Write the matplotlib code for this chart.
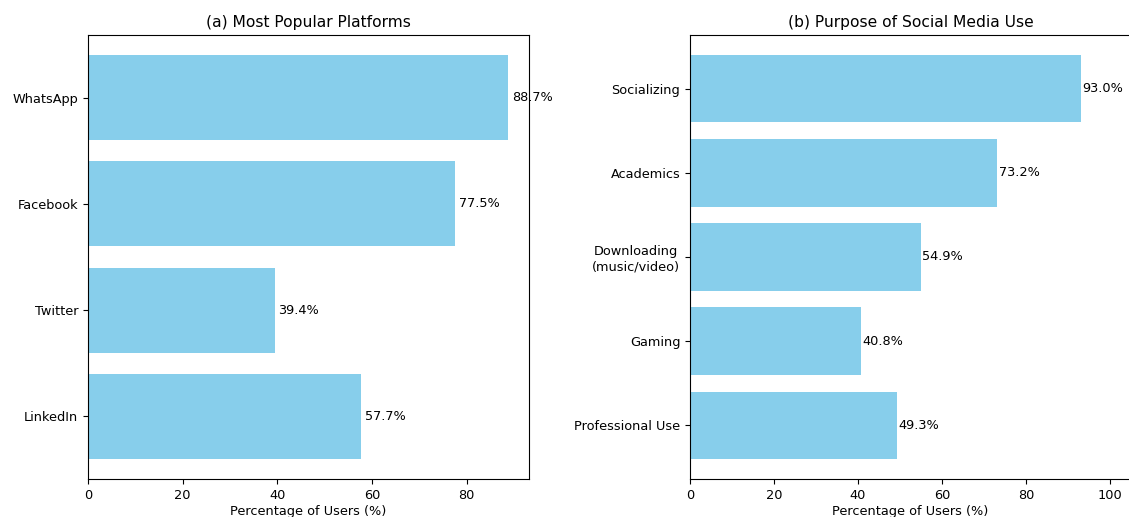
import matplotlib.pyplot as plt

# Panel (a): most popular platforms
platforms = ["WhatsApp", "Facebook", "Twitter", "LinkedIn"]
platform_pct = [88.7, 77.5, 39.4, 57.7]

# Panel (b): purpose of social media use
purposes = ["Socializing", "Academics", "Downloading\n(music/video)", "Gaming", "Professional Use"]
purpose_pct = [93.0, 73.2, 54.9, 40.8, 49.3]

BAR_COLOR = "skyblue"
TICK_SIZE = 9.3
TITLE_SIZE = 11.2

fig = plt.figure(figsize=(11.29, 5.17), dpi=100)
W, H = 1129, 517


def px_axes(x0, y0, x1, y1):
    """Add axes from pixel box (top-left origin)."""
    return fig.add_axes([x0 / W, 1 - y1 / H, (x1 - x0) / W, (y1 - y0) / H])


def draw_panel(ax, labels, values, title, offset):
    ax.barh(labels, values, color=BAR_COLOR, height=0.8)
    ax.invert_yaxis()
    for i, v in enumerate(values):
        ax.text(v + offset, i, f"{v:.1f}%", va="center", ha="left", fontsize=TICK_SIZE)
    ax.set_title(title, fontsize=TITLE_SIZE)
    ax.set_xlabel("Percentage of Users (%)", fontsize=TICK_SIZE, labelpad=2)
    ax.tick_params(labelsize=TICK_SIZE)
    for lbl in ax.get_yticklabels():
        lbl.set_multialignment("center")


ax1 = px_axes(88, 35, 529, 479)
draw_panel(ax1, platforms, platform_pct, "(a) Most Popular Platforms", 0.8)

ax2 = px_axes(690, 35, 1131, 479)
draw_panel(ax2, purposes, purpose_pct, "(b) Purpose of Social Media Use", 0.3)
ax2.set_xlim(0, 105)

fig.savefig("out.png", dpi=100)
